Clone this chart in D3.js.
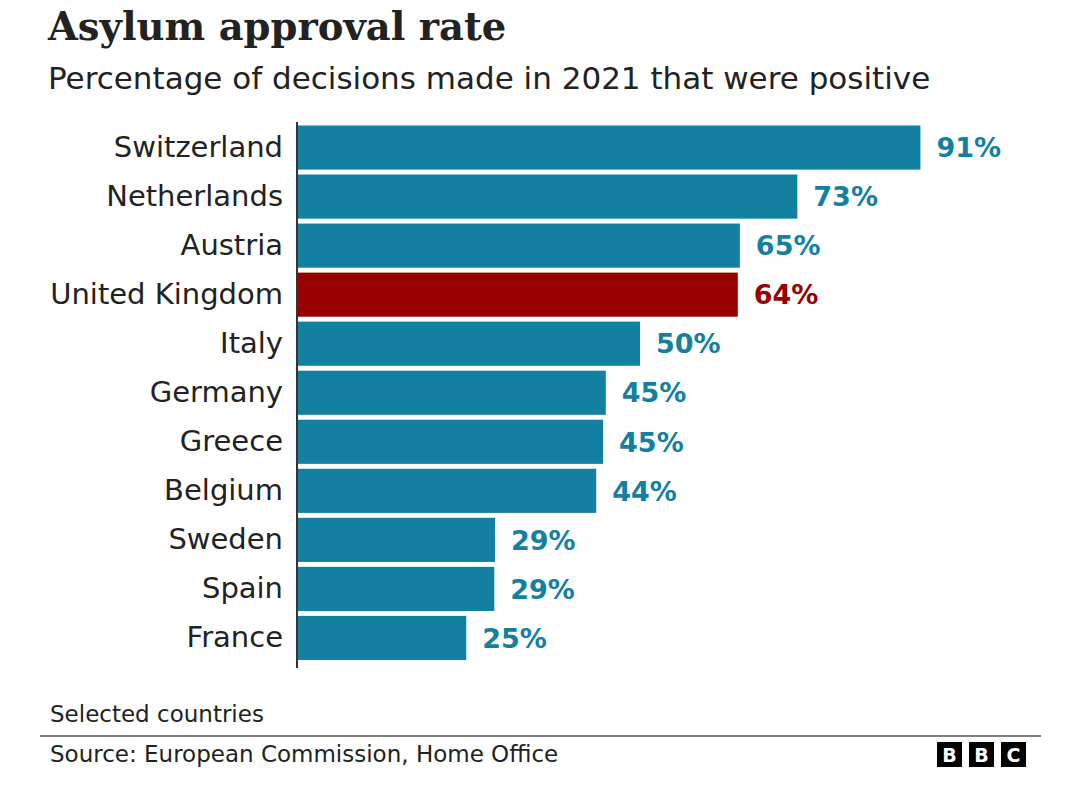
<!DOCTYPE html>
<html>
<head>
<meta charset="utf-8">
<script src="https://cdn.jsdelivr.net/npm/d3@7"></script>
<style>
  html, body { margin: 0; padding: 0; background: #fff; }
  svg { display: block; }
</style>
</head>
<body>
<svg id="chart" width="1080" height="790"></svg>
<script>
const categories = ["Switzerland", "Netherlands", "Austria", "United Kingdom", "Italy", "Germany", "Greece", "Belgium", "Sweden", "Spain", "France"];
const values = [91.0, 73.0, 64.6, 64.3, 50.0, 45.0, 44.6, 43.6, 28.8, 28.7, 24.6];
const highlight = ["United Kingdom"];

const title = "Asylum approval rate";
const subtitle = "Percentage of decisions made in 2021 that were positive";
const note = "Selected countries";
const source = "Source: European Commission, Home Office";

const svg = d3.select("#chart");
const sans = "'DejaVu Sans', 'Noto Sans', sans-serif";
const teal = "#1380a1", red = "#990000";

const x = d3.scaleLinear().domain([0, 100]).range([298, 982]);
const y = d3.scaleBand().domain(categories).range([124.5, 661]).paddingInner(0.1).paddingOuter(0.02);

svg.append("text").attr("x", 48).attr("y", 40)
  .attr("font-family", "'DejaVu Serif', serif").attr("font-weight", "bold")
  .attr("font-size", 38.5).attr("fill", "#222").text(title);

svg.append("text").attr("x", 48).attr("y", 89)
  .attr("font-family", sans).attr("font-size", 31).attr("fill", "#222").text(subtitle);

const data = categories.map((c, i) => ({ c, v: values[i] }));
const col = d => highlight.includes(d.c) ? red : teal;

svg.append("g").selectAll("rect").data(data).join("rect")
  .attr("x", x(0)).attr("y", d => y(d.c))
  .attr("width", d => x(d.v) - x(0)).attr("height", y.bandwidth())
  .attr("fill", col);

svg.append("g").selectAll("text").data(data).join("text")
  .attr("x", d => x(d.v) + 16).attr("y", d => y(d.c) + y.bandwidth() / 2)
  .attr("dy", "0.36em")
  .attr("font-family", sans).attr("font-weight", "bold").attr("font-size", 27)
  .attr("fill", col).text(d => Math.round(d.v) + "%");

const yAxis = d3.axisLeft(y).tickSize(0).tickPadding(14);
const ga = svg.append("g").attr("transform", `translate(${x(0) - 1},0)`).call(yAxis);
ga.select(".domain").remove();
ga.selectAll("text").attr("font-family", sans).attr("font-size", 29).attr("fill", "#222");
svg.append("line").attr("x1", x(0) - 1).attr("x2", x(0) - 1).attr("y1", 122).attr("y2", 668)
  .attr("stroke", "#333").attr("stroke-width", 2);

svg.append("text").attr("x", 50).attr("y", 722)
  .attr("font-family", sans).attr("font-size", 23).attr("fill", "#222").text(note);
svg.append("line").attr("x1", 40).attr("x2", 1041).attr("y1", 736).attr("y2", 736)
  .attr("stroke", "#555").attr("stroke-width", 1.5);
svg.append("text").attr("x", 50).attr("y", 762)
  .attr("font-family", sans).attr("font-size", 23).attr("fill", "#222").text(source);

const logo = svg.append("g").attr("transform", "translate(937,742)");
["B", "B", "C"].forEach((l, i) => {
  logo.append("rect").attr("x", i * 32).attr("y", 0).attr("width", 25).attr("height", 25).attr("fill", "#000");
  logo.append("text").attr("x", i * 32 + 12.5).attr("y", 20).attr("text-anchor", "middle")
    .attr("font-family", sans).attr("font-weight", "bold").attr("font-size", 19).attr("fill", "#fff").text(l);
});
</script>
</body>
</html>
